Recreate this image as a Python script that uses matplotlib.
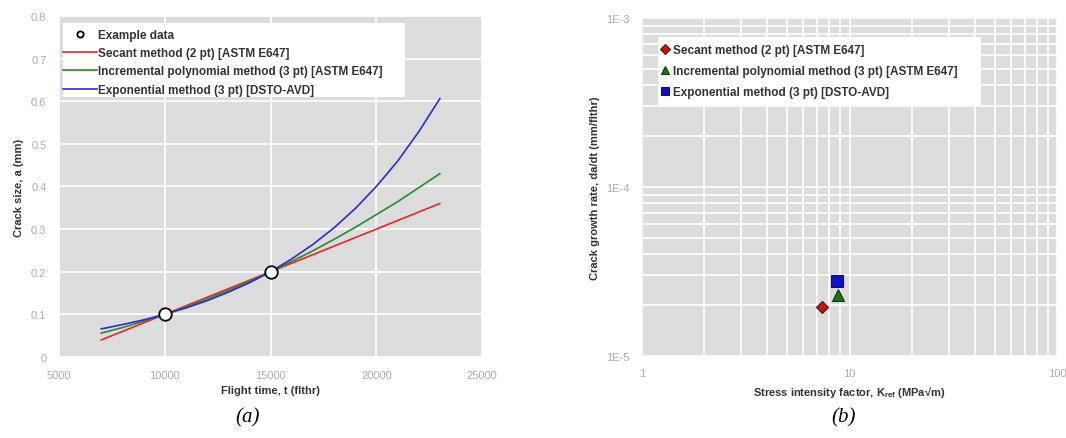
import matplotlib
matplotlib.use("Agg")
import matplotlib.pyplot as plt
import matplotlib.lines as mlines
from matplotlib.patches import Rectangle
from matplotlib.ticker import FixedLocator, FixedFormatter, LogLocator, NullFormatter

# ---- data (panel a) ----
example_t = [10000, 15000]
example_a = [0.1, 0.2]

t_curve = [7000, 8000, 9000, 10000, 11000, 12000, 13000, 14000, 15000,
           16000, 17000, 18000, 19000, 20000, 21000, 22000, 23000]
secant_a = [0.04, 0.06, 0.08, 0.10, 0.12, 0.14, 0.16, 0.18, 0.20,
            0.22, 0.24, 0.26, 0.28, 0.30, 0.32, 0.34, 0.36]
poly_a = [0.056, 0.069, 0.084, 0.100, 0.117, 0.136, 0.156, 0.177, 0.200,
          0.224, 0.249, 0.276, 0.304, 0.334, 0.364, 0.397, 0.430]
expo_a = [0.066, 0.076, 0.087, 0.100, 0.115, 0.132, 0.152, 0.174, 0.200,
          0.230, 0.264, 0.303, 0.348, 0.400, 0.459, 0.528, 0.606]

# ---- data (panel b) ----
secant_K, secant_rate = [7.4], [1.95e-5]
poly_K, poly_rate = [8.75], [2.3e-5]
expo_K, expo_rate = [8.65], [2.78e-5]

labels = ["Example data",
          "Secant method (2 pt) [ASTM E647]",
          "Incremental polynomial method (3 pt) [ASTM E647]",
          "Exponential method (3 pt) [DSTO-AVD]"]

plt.rcParams['font.family'] = ['Liberation Sans', 'DejaVu Sans']

BG = '#dcdcdc'
TICKC = '#ababab'
LBLC = '#333333'

fig = plt.figure(figsize=(10.66, 4.39), dpi=100)

# ---------- panel (a) ----------
ax1 = fig.add_axes([0.0553, 0.1845, 0.397, 0.777])
ax1.set_facecolor(BG)
ax1.grid(True, color='white', linewidth=1.2)
ax1.set_axisbelow(True)
for s in ax1.spines.values():
    s.set_visible(False)
ax1.set_xlim(5000, 25000)
ax1.set_ylim(0, 0.8)
ax1.set_xticks([5000, 10000, 15000, 20000, 25000])
ax1.set_yticks([0, 0.1, 0.2, 0.3, 0.4, 0.5, 0.6, 0.7, 0.8])
ax1.set_yticklabels(['0', '0.1', '0.2', '0.3', '0.4', '0.5', '0.6', '0.7', '0.8'])
ax1.tick_params(length=0, labelsize=8, labelcolor=TICKC, pad=9)

h0, = ax1.plot(example_t, example_a, 'o', ms=9, mfc='white', mec='black',
               mew=1.3, zorder=5, linestyle='none')
h1, = ax1.plot(t_curve, secant_a, color='#e8262a', lw=1.2)
h2, = ax1.plot(t_curve, poly_a, color='#2a8a2a', lw=1.2)
h3, = ax1.plot(t_curve, expo_a, color='#2a2ad8', lw=1.2)

ax1.add_patch(Rectangle((0.0095, 0.762), 0.8085, 0.217, transform=ax1.transAxes,
                        facecolor='white', edgecolor='none', zorder=6))
lh0 = mlines.Line2D([], [], marker='o', ms=4.5, mfc='white', mec='black',
                    mew=1.3, linestyle='none')
leg1 = ax1.legend([lh0, h1, h2, h3], labels, loc='upper left',
                  bbox_to_anchor=(0.0095, 0.962), frameon=False,
                  prop={'weight': 'bold', 'size': 8.5}, handlelength=2.9,
                  handletextpad=0.1, labelspacing=0.53, borderpad=0.0,
                  borderaxespad=0.0)
leg1.set_zorder(7)
for t in leg1.get_texts():
    t.set_color(LBLC)
ax1.set_xlabel('Flight time, t (flthr)', fontsize=8, fontweight='bold',
               color=LBLC, labelpad=4)
ax1.set_ylabel('Crack size, a (mm)', fontsize=8, fontweight='bold',
               color=LBLC, labelpad=5)

# ---------- panel (b) ----------
ax2 = fig.add_axes([0.602, 0.1868, 0.390, 0.770])
ax2.set_facecolor(BG)
ax2.set_xscale('log')
ax2.set_yscale('log')
ax2.set_xlim(1, 100)
ax2.set_ylim(1e-5, 1e-3)
ax2.xaxis.set_major_locator(FixedLocator([1, 10, 100]))
ax2.xaxis.set_major_formatter(FixedFormatter(['1', '10', '100']))
ax2.yaxis.set_major_locator(FixedLocator([1e-5, 1e-4, 1e-3]))
ax2.yaxis.set_major_formatter(FixedFormatter(['1E-5', '1E-4', '1E-3']))
ax2.xaxis.set_minor_locator(LogLocator(base=10, subs=range(2, 10)))
ax2.yaxis.set_minor_locator(LogLocator(base=10, subs=range(2, 10)))
ax2.xaxis.set_minor_formatter(NullFormatter())
ax2.yaxis.set_minor_formatter(NullFormatter())
ax2.grid(True, which='both', color='white', linewidth=1.2)
ax2.set_axisbelow(True)
for s in ax2.spines.values():
    s.set_visible(False)
ax2.tick_params(which='both', length=0, labelsize=8, labelcolor=TICKC, pad=9)

m1, = ax2.plot(secant_K, secant_rate, 'D', ms=6, mfc='#c01818', mec='#5a1010',
               mew=0.8, linestyle='none')
m2, = ax2.plot(poly_K, poly_rate, '^', ms=8, mfc='#1e6e1e', mec='#103810',
               mew=0.8, linestyle='none')
m3, = ax2.plot(expo_K, expo_rate, 's', ms=8, mfc='#1010c8', mec='#101050',
               mew=0.8, linestyle='none')
ax2.add_patch(Rectangle((0.038, 0.740), 0.777, 0.204, transform=ax2.transAxes,
                        facecolor='white', edgecolor='none', zorder=6))
leg2 = ax2.legend([m1, m2, m3], labels[1:], loc='upper left',
                  bbox_to_anchor=(0.048, 0.923), frameon=False,
                  prop={'weight': 'bold', 'size': 8.5}, handlelength=0.6,
                  handletextpad=0.35, labelspacing=0.78, borderpad=0.0,
                  borderaxespad=0.0, markerscale=0.8)
leg2.set_zorder(7)
for t in leg2.get_texts():
    t.set_color(LBLC)
ax2.set_xlabel('Stress intensity factor, K$_{\\mathregular{ref}}$ (MPa\u221am)',
               fontsize=8, fontweight='bold', color=LBLC, labelpad=4)
ax2.set_ylabel('Crack growth rate, da/dt (mm/flthr)', fontsize=8,
               fontweight='bold', color=LBLC, labelpad=4)

# captions
fig.text(0.232, 0.048, '(a)', fontsize=15, fontstyle='italic',
         family='Liberation Serif', ha='center', va='center')
fig.text(0.791, 0.048, '(b)', fontsize=15, fontstyle='italic',
         family='Liberation Serif', ha='center', va='center')

fig.savefig('out.png', dpi=100)
